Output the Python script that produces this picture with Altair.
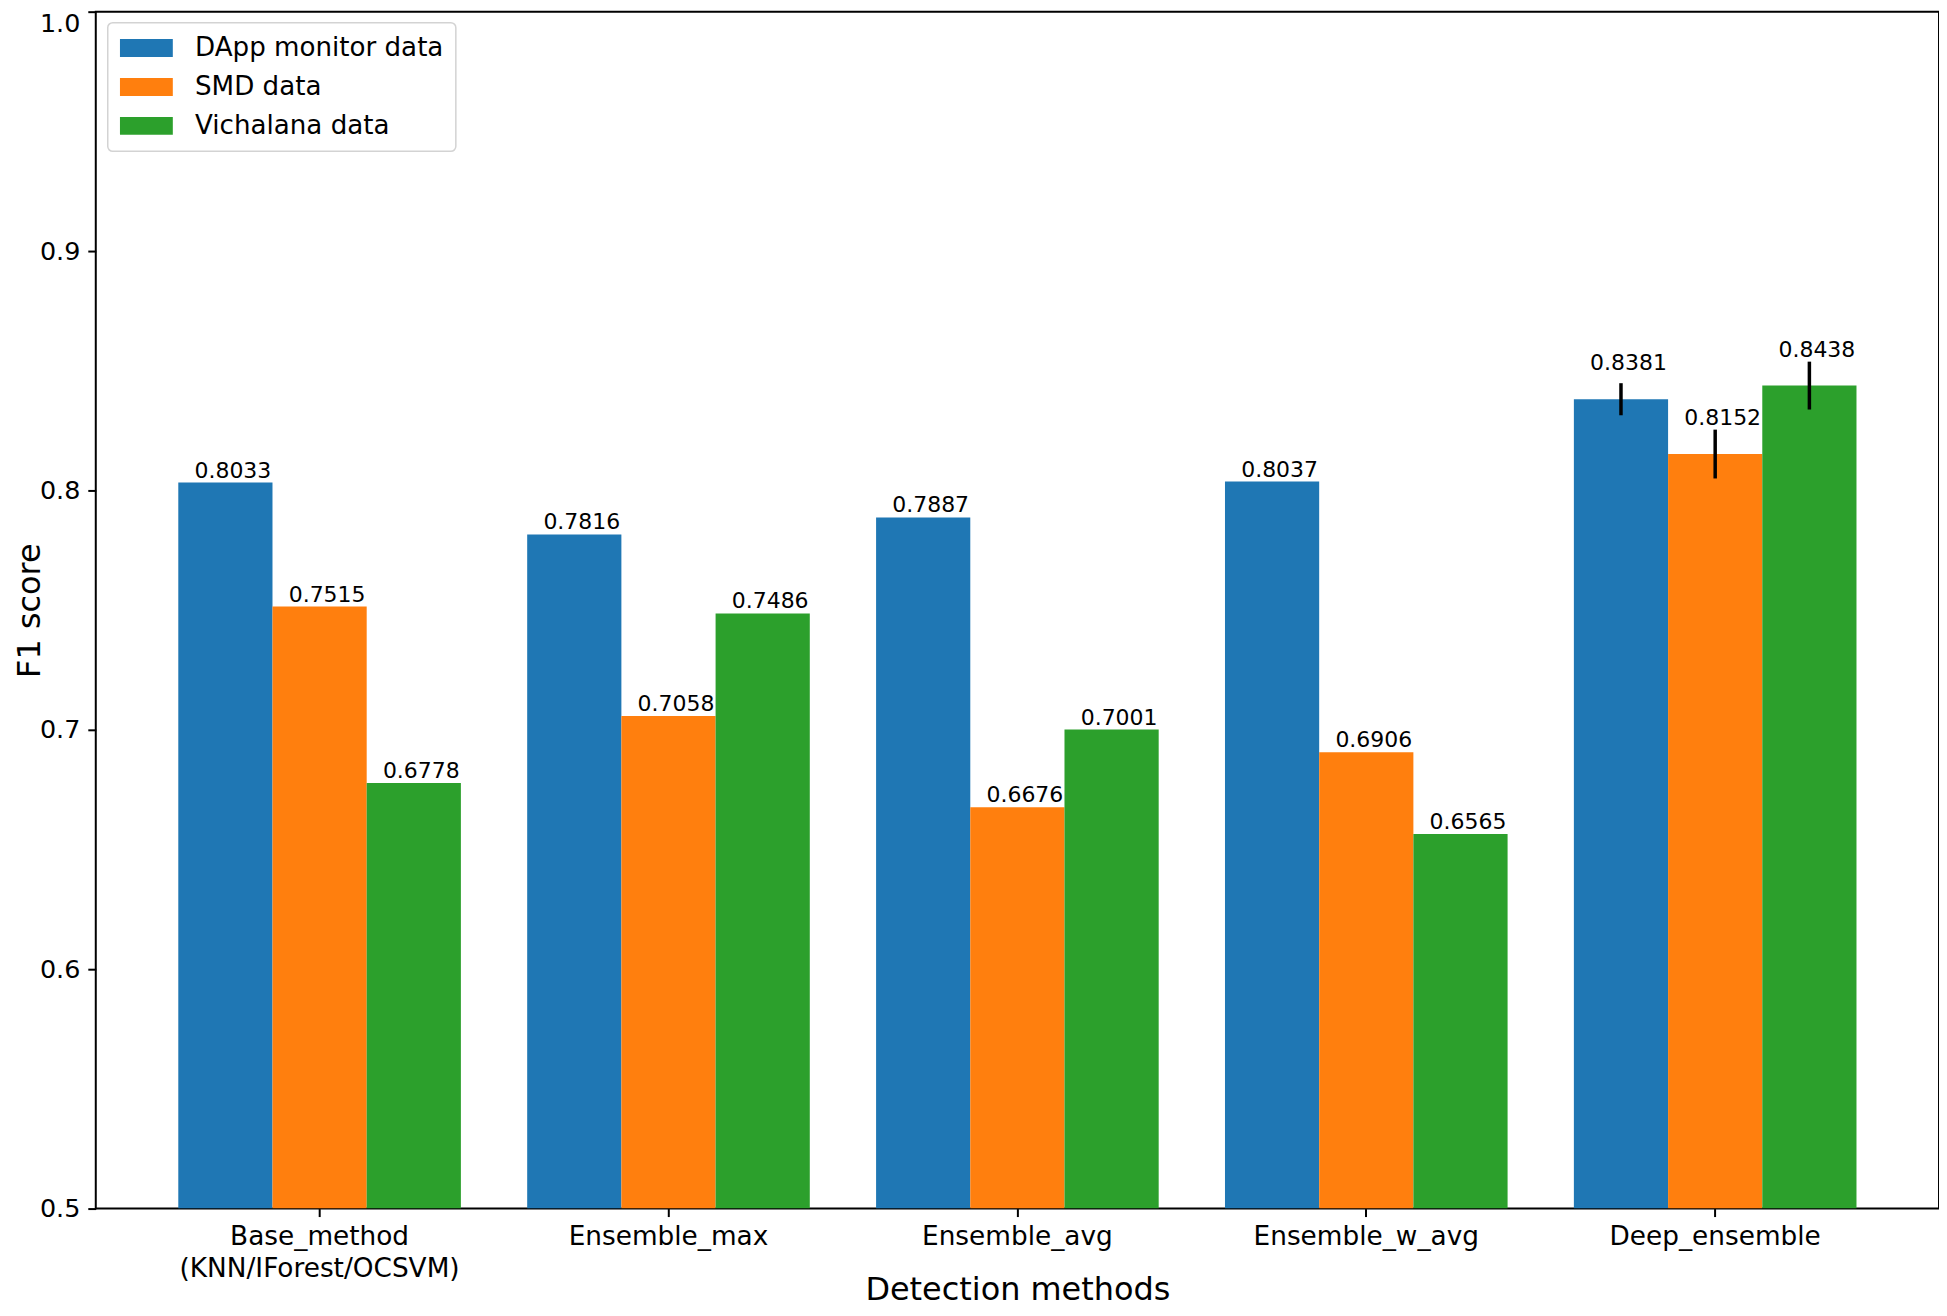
import altair as alt
import pandas as pd

methods = [
    "Base_method\n(KNN/IForest/OCSVM)",
    "Ensemble_max",
    "Ensemble_avg",
    "Ensemble_w_avg",
    "Deep_ensemble",
]
datasets = ["DApp monitor data", "SMD data", "Vichalana data"]
colors = ["#1f77b4", "#ff7f0e", "#2ca02c"]

dapp = [0.8033, 0.7816, 0.7887, 0.8037, 0.8381]
smd = [0.7515, 0.7058, 0.6676, 0.6906, 0.8152]
vich = [0.6778, 0.7486, 0.7001, 0.6565, 0.8438]

dapp_err = [0, 0, 0, 0, 0.0067]
smd_err = [0, 0, 0, 0, 0.0102]
vich_err = [0, 0, 0, 0, 0.0100]

y_ticks = [0.5, 0.6, 0.7, 0.8, 0.9, 1.0]

rows = []
for vals, errs, ds in [(dapp, dapp_err, datasets[0]), (smd, smd_err, datasets[1]), (vich, vich_err, datasets[2])]:
    for m, v, e in zip(methods, vals, errs):
        rows.append({"method": m, "dataset": ds, "value": v, "err": e})
df = pd.DataFrame(rows)

FONT = "DejaVu Sans"

x_enc = alt.X(
    "method:N",
    sort=methods,
    title="Detection methods",
    scale=alt.Scale(paddingInner=0.19, paddingOuter=0.2365),
    axis=alt.Axis(
        labelAngle=0,
        labelExpr="split(datum.label, '\\n')",
        labelFontSize=26.4,
        labelLineHeight=32,
        labelPadding=7,
        labelLimit=0,
        labelColor="black",
        tickSize=8,
        tickWidth=2,
        tickColor="black",
        domain=False,
        titleFontSize=32,
        titleFontWeight="normal",
        titleColor="black",
        titleBaseline="alphabetic",
        titleY=91,
    ),
)
xoff = alt.XOffset("dataset:N", sort=datasets, scale=alt.Scale(paddingInner=0, paddingOuter=0))

y_scale = alt.Scale(domain=[0.5, 1.0], zero=False, nice=False, clamp=True)

bars = alt.Chart(df).mark_bar(clip=True).encode(
    x=x_enc,
    xOffset=xoff,
    y=alt.Y(
        "value:Q",
        scale=y_scale,
        title="F1 score",
        axis=alt.Axis(
            values=y_ticks,
            format=".1f",
            labelFontSize=25.5,
            labelColor="black",
            labelPadding=8,
            labelBaseline=alt.condition("datum.value >= 1", alt.value("top"), alt.value("middle")),
            tickSize=8,
            tickWidth=2,
            tickColor="black",
            domain=False,
            grid=False,
            titleFontSize=32,
            titleFontWeight="normal",
            titleColor="black",
            titleAngle=-90,
            titleBaseline="alphabetic",
            titleAlign="center",
            titleX=-56,
            titleY=600,
        ),
    ),
    y2=alt.datum(0.5),
    color=alt.Color(
        "dataset:N",
        sort=datasets,
        scale=alt.Scale(domain=datasets, range=colors),
        legend=alt.Legend(
            title=None,
            orient="none",
            legendX=12,
            legendY=11,
            symbolType="M-1,-0.68H3V0.68H-1Z",
            symbolSize=702,
            symbolStrokeWidth=0,
            symbolOpacity=1,
            labelFontSize=26.2,
            labelColor="black",
            labelOffset=48.5,
            labelLimit=0,
            rowPadding=12,
            padding=12,
            fillColor="white",
            strokeColor="#d3d3d3",
            cornerRadius=5,
        ),
    ),
)

errbars = alt.Chart(df).transform_filter("datum.err > 0").transform_calculate(
    lo="datum.value - datum.err", hi="datum.value + datum.err"
).mark_rule(color="black", strokeWidth=3.5).encode(
    x=alt.X("method:N", sort=methods),
    xOffset=xoff,
    y=alt.Y("lo:Q", scale=y_scale),
    y2="hi:Q",
)

labels = alt.Chart(df).transform_calculate(
    ly="datum.value + (datum.err > 0 ? 0.01 : 0)",
    txt="format(datum.value, '.4f')",
).mark_text(
    align="right", baseline="alphabetic", dx=46, dy=-5, fontSize=22, font=FONT, color="black"
).encode(
    x=alt.X("method:N", sort=methods),
    xOffset=xoff,
    y=alt.Y("ly:Q", scale=y_scale),
    text="txt:N",
)

chart = alt.layer(bars, errbars, labels).properties(
    width=1848,
    height=1200,
    autosize=alt.AutoSizeParams(type="none"),
    padding={"left": 88, "top": 2, "right": 0, "bottom": 98},
).configure(font=FONT).configure_view(
    stroke="black", strokeWidth=2
).configure_legend(
    strokeWidth=1.5
)

chart.save("out.html", embed_options={"renderer": "svg", "actions": False})
